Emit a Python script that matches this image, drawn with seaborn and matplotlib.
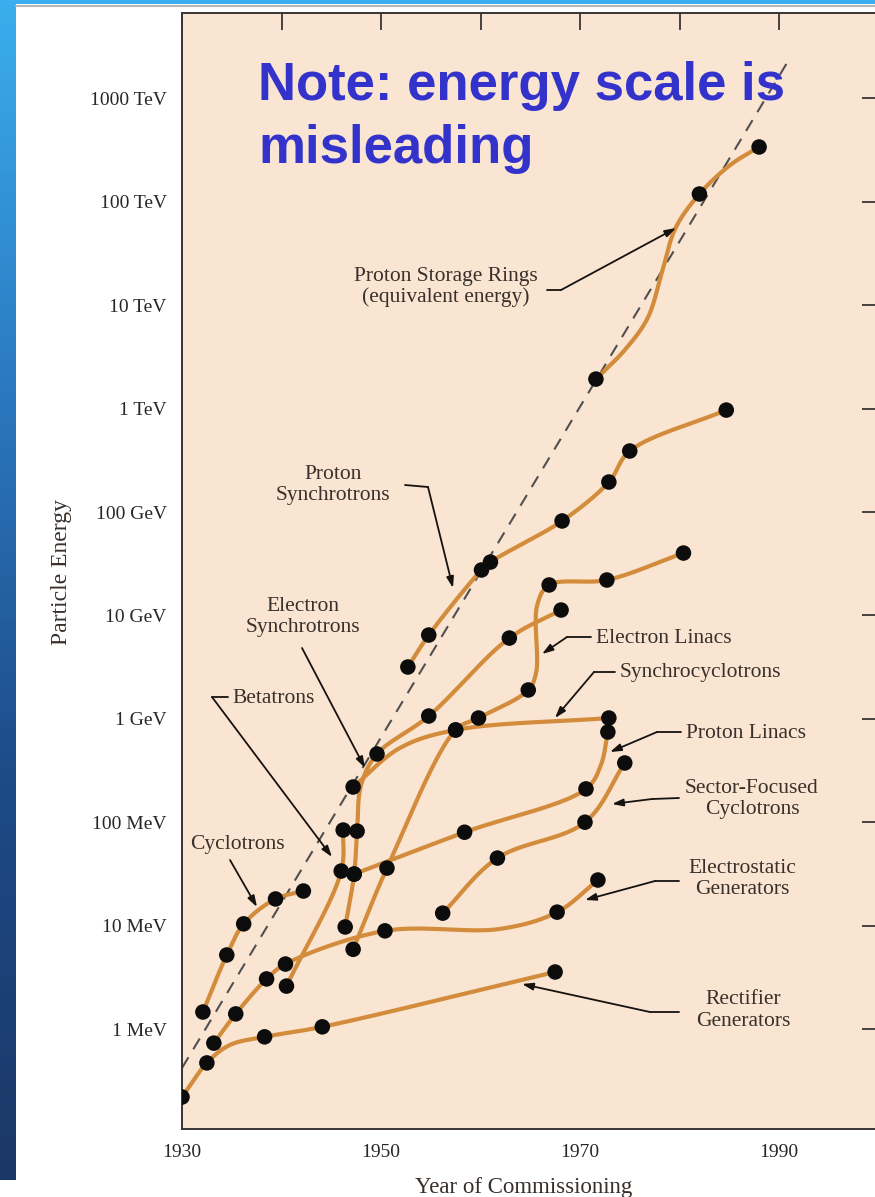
import numpy as np
import pandas as pd
import matplotlib
matplotlib.use("Agg")
import matplotlib.pyplot as plt
import seaborn as sns
from matplotlib.patches import Rectangle
from matplotlib.lines import Line2D
from matplotlib.colors import LinearSegmentedColormap
import matplotlib.ticker as mticker

sns.set_theme(style="white")
plt.rcParams["font.family"] = ["Liberation Serif", "DejaVu Serif"]

# ---------------- data (year, energy in MeV, 1 = machine dot, 0 = bend of curve)
rect_year = [1930.0, 1932.5, 1934.8, 1938.3, 1944.1, 1967.5]
rect_mev = [0.22, 0.47, 0.70, 0.84, 1.05, 3.56]
rect_dot = [1, 1, 0, 1, 1, 1]

estat_year = [1933.2, 1935.4, 1938.5, 1940.4, 1950.4, 1962.0, 1967.7, 1971.8]
estat_mev = [0.73, 1.40, 3.05, 4.25, 8.9, 9.3, 13.5, 27.6]
estat_dot = [1, 1, 1, 1, 1, 0, 1, 1]

cyc_year = [1932.1, 1934.5, 1936.2, 1939.4, 1942.2]
cyc_mev = [1.46, 5.2, 10.4, 18.1, 21.6]
cyc_dot = [1, 1, 1, 1, 1]

beta_year = [1940.5, 1946.0, 1946.2]
beta_mev = [2.6, 33.7, 84]
beta_dot = [1, 1, 1]

esync_year = [1946.4, 1947.3, 1947.6, 1948.0, 1949.6, 1954.8, 1962.9, 1968.1]
esync_mev = [9.7, 31.5, 82, 229, 457, 1064, 6040, 11270]
esync_dot = [1, 1, 1, 0, 1, 1, 1, 1]

scyc_year = [1947.2, 1951.9, 1957.5, 1972.9]
scyc_mev = [219, 522, 780, 1018]
scyc_dot = [1, 0, 1, 1]

elin_year = [1947.2, 1950.6, 1957.5, 1959.8, 1964.8, 1965.6, 1965.7, 1966.9, 1972.7, 1980.4]
elin_mev = [5.9, 36, 780, 1018, 1900, 2837, 12610, 19700, 22000, 40100]
elin_dot = [1, 1, 1, 1, 1, 0, 0, 1, 1, 1]

plin_year = [1947.3, 1958.4, 1970.6, 1972.1, 1972.8]
plin_mev = [31.5, 80, 210, 357, 745]
plin_dot = [1, 1, 1, 0, 1]

sfc_year = [1956.2, 1961.7, 1970.5, 1974.5]
sfc_mev = [13.2, 45, 100, 374]
sfc_dot = [1, 1, 1, 1]

psync_year = [1952.7, 1954.8, 1960.1, 1961.0, 1968.2, 1972.9, 1975.0, 1984.7]
psync_mev = [3170, 6460, 27500, 32800, 81900, 195000, 389000, 968000]
psync_dot = [1, 1, 1, 1, 1, 1, 1, 1]

psr_year = [1971.6, 1974.5, 1976.8, 1978.3, 1979.6, 1982.0, 1985.1, 1988.0]
psr_mev = [1.93e6, 3.69e6, 7.52e6, 2.19e7, 5.58e7, 1.19e8, 2.27e8, 3.39e8]
psr_dot = [1, 0, 0, 0, 0, 1, 0, 1]

trend_year = [1930.0, 1991.0]
trend_mev = [0.42, 2.37e9]

ytick_mev = [1, 10, 100, 1e3, 1e4, 1e5, 1e6, 1e7, 1e8, 1e9]
ytick_labels = ["1 MeV", "10 MeV", "100 MeV", "1 GeV", "10 GeV", "100 GeV",
                "1 TeV", "10 TeV", "100 TeV", "1000 TeV"]
xtick_years = [1930, 1940, 1950, 1960, 1970, 1980, 1990]
xtick_labels = ["1930", "", "1950", "", "1970", "", "1990"]

series = {
    "Rectifier": (rect_year, rect_mev, rect_dot),
    "Electrostatic": (estat_year, estat_mev, estat_dot),
    "Cyclotrons": (cyc_year, cyc_mev, cyc_dot),
    "Betatrons": (beta_year, beta_mev, beta_dot),
    "ESync": (esync_year, esync_mev, esync_dot),
    "Synchrocyclotrons": (scyc_year, scyc_mev, scyc_dot),
    "ELinacs": (elin_year, elin_mev, elin_dot),
    "PLinacs": (plin_year, plin_mev, plin_dot),
    "SectorFocused": (sfc_year, sfc_mev, sfc_dot),
    "PSync": (psync_year, psync_mev, psync_dot),
    "PSR": (psr_year, psr_mev, psr_dot),
}

# ---------------- smooth curve through points (drawing only)
XS, YS = 9.95, 103.4  # visual aspect: px per year, px per decade


def catmull(pts, n=40):
    P = np.asarray(pts, float)
    if len(P) == 2:
        t = np.linspace(0, 1, n)[:, None]
        return P[0] * (1 - t) + P[1] * t
    P = np.vstack([2 * P[0] - P[1], P, 2 * P[-1] - P[-2]])
    out = []
    for i in range(1, len(P) - 2):
        p0, p1, p2, p3 = P[i - 1], P[i], P[i + 1], P[i + 2]
        a = 0.5
        t0 = 0.0
        t1 = t0 + max(np.linalg.norm(p1 - p0), 1e-6) ** a
        t2 = t1 + max(np.linalg.norm(p2 - p1), 1e-6) ** a
        t3 = t2 + max(np.linalg.norm(p3 - p2), 1e-6) ** a
        t = np.linspace(t1, t2, n)[:, None]
        A1 = (t1 - t) / (t1 - t0) * p0 + (t - t0) / (t1 - t0) * p1
        A2 = (t2 - t) / (t2 - t1) * p1 + (t - t1) / (t2 - t1) * p2
        A3 = (t3 - t) / (t3 - t2) * p2 + (t - t2) / (t3 - t2) * p3
        B1 = (t2 - t) / (t2 - t0) * A1 + (t - t0) / (t2 - t0) * A2
        B2 = (t3 - t) / (t3 - t1) * A2 + (t - t1) / (t3 - t1) * A3
        C = (t2 - t) / (t2 - t1) * B1 + (t - t1) / (t2 - t1) * B2
        out.append(C if i == 1 else C[1:])
    return np.vstack(out)


curve_rows, dot_rows = [], []
for name, (yrs, mev, dot) in series.items():
    pts = np.column_stack([np.array(yrs) * XS, np.log10(mev) * YS])
    C = catmull(pts)
    for k, (u, v) in enumerate(C):
        curve_rows.append((name, k, u / XS, 10 ** (v / YS)))
    for y_, e_, d_ in zip(yrs, mev, dot):
        if d_:
            dot_rows.append((name, y_, e_))
curves = pd.DataFrame(curve_rows, columns=["series", "order", "year", "energy"])
dots = pd.DataFrame(dot_rows, columns=["series", "year", "energy"])
trend = pd.DataFrame({"year": trend_year, "energy": trend_mev})

# ---------------- figure
W, H = 875, 1197
fig = plt.figure(figsize=(W / 100, H / 100), dpi=100)
fig.patch.set_facecolor("white")

# slide decorations
grad = np.linspace(0, 1, 256).reshape(-1, 1)
cmap = LinearSegmentedColormap.from_list("bar", ["#3aaeee", "#2b78bf", "#1d4a86", "#1b3767"])
axbar = fig.add_axes([0, 1 - 1180 / H, 16 / W, 1180 / H])
axbar.imshow(grad, aspect="auto", cmap=cmap, extent=[0, 1, 0, 1])
axbar.axis("off")
fig.add_artist(Rectangle((0, 1 - 4 / H), 1, 4 / H, transform=fig.transFigure,
                         color="#3aaeee", lw=0))
fig.add_artist(Line2D([16 / W, 1], [1 - 6 / H] * 2, transform=fig.transFigure,
                      color="#b5b5b5", lw=1.5))

ax = fig.add_axes([182 / W, 1 - 1129 / H, (878.5 - 182) / W, (1129 - 13) / H])
ax.set_facecolor("#f9e5d1")
ax.set_yscale("log")
ax.set_xlim(1930, 2000)
ax.set_ylim(10 ** -0.967, 10 ** 9.826)

sns.lineplot(data=trend, x="year", y="energy", ax=ax, color="#505050", lw=1.5,
             linestyle=(0, (6, 4.5)), legend=False, zorder=2)
sns.lineplot(data=curves, x="year", y="energy", units="series", estimator=None,
             sort=False, ax=ax, color="#d38c3c", lw=3.0, legend=False, zorder=3)
sns.scatterplot(data=dots, x="year", y="energy", ax=ax, color="#0c0c0c", s=125,
                edgecolor="none", legend=False, zorder=5)

# axes styling
for sp in ax.spines.values():
    sp.set_visible(True)
    sp.set_color("#3a3533")
    sp.set_linewidth(1.4)
ax.yaxis.set_major_locator(mticker.FixedLocator(ytick_mev))
ax.yaxis.set_minor_locator(mticker.NullLocator())
ax.set_yticklabels(ytick_labels)
ax.set_xticks(xtick_years)
ax.set_xticklabels(xtick_labels)
ax.tick_params(which="major", direction="in", length=12, width=1.3, color="#3a3533",
               top=True, right=True, labelsize=14, labelcolor="#2a2624", pad=11)
ax.set_xlabel("")
ax.set_ylabel("")

TXT = "#3a302b"


def at(px, py):
    """reference-layout position -> data coordinates"""
    return 1930 + (px - 182) / XS, 10 ** ((1029 - py) / YS)


def label(lines, pointer, fs=15.5):
    for (s, px, py, ha) in lines:
        x, y = at(px, py + 6)
        ax.text(x, y, s, ha=ha, va="baseline", fontsize=fs, color=TXT, zorder=6)
    if pointer:
        pts = [at(*p) for p in pointer]
        if len(pts) > 2:
            xs, ys = zip(*pts[:-1])
            ax.plot(xs, ys, color="#161210", lw=1.3, zorder=6)
        ax.annotate("", xy=pts[-1], xytext=pts[-2],
                    arrowprops=dict(arrowstyle="-|>,head_length=0.55,head_width=0.18",
                                    color="#161210", lw=1.3, shrinkA=0, shrinkB=0),
                    zorder=6)


label([("Proton Storage Rings", 446, 275, "center"), ("(equivalent energy)", 446, 296, "center")],
      [(547, 290), (561, 290), (676, 228)])
label([("Proton", 333, 473, "center"), ("Synchrotrons", 333, 494, "center")],
      [(405, 485), (428, 487), (453, 588)])
label([("Electron", 303, 605, "center"), ("Synchrotrons", 303, 626, "center")],
      [(302, 648), (365, 768)])
label([("Betatrons", 232, 697, "left")], [(228, 697), (212, 697), (332, 857)])
label([("Cyclotrons", 237, 843, "center")], [(230, 860), (257, 907)])
label([("Electron Linacs", 596, 637, "left")], [(591, 637), (567, 637), (542, 654)])
label([("Synchrocyclotrons", 620, 671, "left")], [(615, 672), (594, 672), (555, 718)])
label([("Proton Linacs", 686, 732, "left")], [(681, 732), (657, 732), (610, 752)])
label([("Sector-Focused", 752, 787, "center"), ("Cyclotrons", 752, 808, "center")],
      [(679, 798), (652, 799), (612, 804)])
label([("Electrostatic", 742, 867, "center"), ("Generators", 742, 888, "center")],
      [(679, 881), (655, 881), (585, 900)])
label([("Rectifier", 743, 998, "center"), ("Generators", 743, 1020, "center")],
      [(679, 1012), (650, 1012), (522, 984)])

# axis titles
fig.text(62 / W, 1 - 572 / H, "Particle Energy", rotation=90, ha="center", va="center",
         fontsize=17, color=TXT)
fig.text(524 / W, 1 - 1187 / H, "Year of Commissioning", ha="center", va="center",
         fontsize=16.5, color=TXT)

# slide note
for s, base in [("Note: energy scale is", 100), ("misleading", 163)]:
    fig.text(258 / W, 1 - base / H, s, ha="left", va="baseline", fontsize=38,
             fontweight="bold", family=["Liberation Sans", "DejaVu Sans"], color="#3333cc")

fig.savefig("out.png", dpi=100, facecolor="white")
